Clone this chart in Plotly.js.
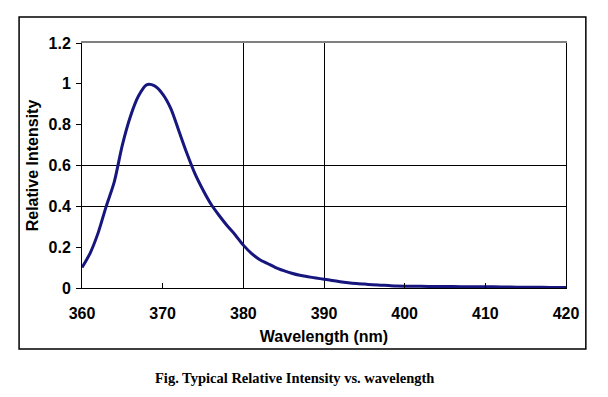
<!DOCTYPE html>
<html>
<head>
<meta charset="utf-8">
<script src="https://cdn.plot.ly/plotly-3.0.1.min.js"></script>
<style>html,body{margin:0;padding:0;background:#fff;}#chart{width:608px;height:397px;}</style>
</head>
<body>
<div id="chart"></div>
<script>
const wavelength = [360,361,362,363,364,365,366,367,368,369,370,371,372,373,374,375,376,377,378,379,380,381,382,383,384,385,386,387,388,389,390,391,392,393,394,395,396,397,398,399,400,402,404,406,408,410,412,414,416,418,420];
const intensity  = [0.10,0.17,0.27,0.40,0.52,0.70,0.84,0.94,0.995,0.99,0.95,0.88,0.77,0.66,0.56,0.48,0.41,0.355,0.305,0.26,0.21,0.17,0.14,0.12,0.10,0.085,0.072,0.062,0.055,0.049,0.043,0.037,0.031,0.026,0.022,0.019,0.016,0.014,0.012,0.010,0.009,0.008,0.007,0.007,0.006,0.006,0.005,0.004,0.004,0.003,0.003];
const xTicks = [360,370,380,390,400,410,420];
const yTicks = [0,0.2,0.4,0.6,0.8,1,1.2];
const yTickText = ['0','0.2','0.4','0.6','0.8','1','1.2'];
const gridX = [380,390];
const gridY = [0.4,0.6];
const xTitle = 'Wavelength (nm)';
const yTitle = 'Relative Intensity';
const caption = 'Fig. Typical Relative Intensity vs. wavelength';

const tickFont = {family:'"Liberation Sans", Arial, sans-serif', size:16, color:'#000', weight:'bold'};
const titleFont = {family:'"Liberation Sans", Arial, sans-serif', size:16, color:'#000', weight:'bold'};

const traces = [{
  x: wavelength, y: intensity, type:'scatter', mode:'lines',
  line:{color:'#16167e', width:3, shape:'spline', smoothing:0.8},
  hoverinfo:'skip', showlegend:false
}];

const layout = {
  width:608, height:397,
  margin:{l:82, r:42, t:43, b:109},
  paper_bgcolor:'#fff', plot_bgcolor:'rgba(0,0,0,0)',
  showlegend:false,
  xaxis:{
    range:[360,420], tickvals:xTicks, ticktext:xTicks.map(String),
    ticks:'inside', ticklen:5, tickcolor:'#000', tickwidth:1,
    showline:true, linecolor:'#000', linewidth:1, mirror:false,
    showgrid:false, zeroline:false, tickfont:tickFont,
    ticklabelstandoff:11,
    title:{text:xTitle, font:titleFont, standoff:9}
  },
  yaxis:{
    range:[0,1.2], tickvals:yTicks, ticktext:yTickText,
    ticks:'outside', ticklen:5, tickcolor:'#000', tickwidth:1,
    showline:true, linecolor:'#000', linewidth:1, mirror:true,
    showgrid:false, zeroline:false, tickfont:tickFont,
    ticklabelstandoff:2,
    title:{text:yTitle, font:titleFont, standoff:5}
  },
  xaxis2:{
    overlaying:'x', side:'top', range:[360,420], tickvals:gridX,
    showticklabels:false, ticks:'', showgrid:true, gridcolor:'#000', gridwidth:1,
    showline:true, linecolor:'#808080', linewidth:2, zeroline:false
  },
  yaxis2:{
    overlaying:'y', side:'right', range:[0,1.2], tickvals:gridY,
    showticklabels:false, ticks:'', showgrid:true, gridcolor:'#000', gridwidth:1,
    showline:false, zeroline:false
  },
  shapes:[{
    type:'rect', xref:'paper', yref:'paper',
    x0:-0.130, x1:1.041, y0:-0.249, y1:1.106,
    line:{color:'#000', width:1.5}, fillcolor:'rgba(0,0,0,0)'
  }],
  annotations:[{
    text:caption, xref:'paper', yref:'paper', x:0.44, y:-0.367,
    showarrow:false, xanchor:'center', yanchor:'middle',
    font:{family:'"Liberation Serif", "DejaVu Serif", serif', size:14.5, color:'#000', weight:'bold'}
  }]
};

traces.push({x:[wavelength[0]], y:[intensity[0]], xaxis:'x2', yaxis:'y2', type:'scatter', mode:'markers', marker:{opacity:0}, hoverinfo:'skip', showlegend:false});

Plotly.newPlot('chart', traces, layout, {staticPlot:true, displayModeBar:false});
</script>
</body>
</html>
